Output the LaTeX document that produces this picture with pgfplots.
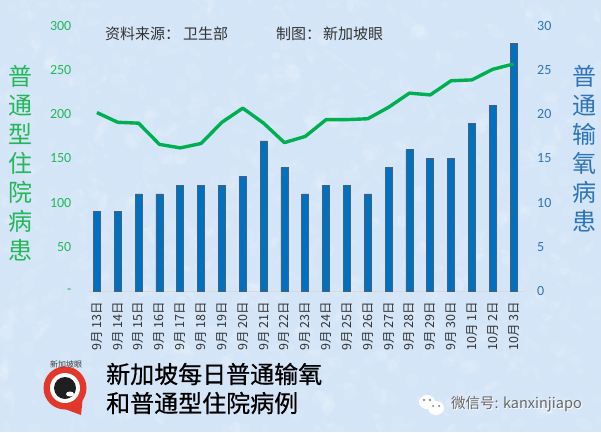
\documentclass[border=0pt]{standalone}
\usepackage{fontspec}
\setmainfont{Noto Sans CJK SC}
\newfontfamily\carl{Carlito}
\newfontfamily\heavy[FakeBold=0.6]{Noto Sans CJK SC}
\usepackage{pgfplots}
\usepackage{pgfplotstable}
\pgfplotsset{compat=1.18}
\definecolor{bgblue}{HTML}{D4E5F8}
\definecolor{barblue}{HTML}{0070C0}
\definecolor{baredge}{HTML}{4A6078}
\definecolor{linegreen}{HTML}{00B050}
\definecolor{leftgreen}{HTML}{22B858}
\definecolor{rightblue}{HTML}{2E75B6}
\definecolor{logored}{HTML}{E2382B}
\pgfplotstableread{
x oxygen ward
0 9 202
1 9 191
2 11 190
3 11 166
4 12 162
5 12 167
6 12 191
7 13 207
8 17 190
9 14 168
10 11 175
11 12 194
12 12 194
13 11 195
14 14 208
15 16 224
16 15 222
17 15 238
18 19 239
19 21 251
20 28 257
}\cases
\begin{document}
\begin{tikzpicture}[x=1pt,y=1pt]
\fill[bgblue] (0,0) rectangle (601,432);
\useasboundingbox (0,0) rectangle (601,432);
% paper texture of the background
\begin{scope}
\clip (0,0) rectangle (601,432);
\pgfmathsetseed{7}
\foreach \i in {1,...,900}{
  \pgfmathsetmacro{\px}{rnd*601}
  \pgfmathsetmacro{\py}{rnd*432}
  \pgfmathsetmacro{\ra}{2+rnd*9}
  \pgfmathsetmacro{\rb}{1.5+rnd*6}
  \pgfmathsetmacro{\rot}{rnd*180}
  \fill[white, opacity=0.10, rotate around={\rot:(\px,\py)}] (\px,\py) ellipse ({\ra} and {\rb});
}
\end{scope}
% bars, right axis
\begin{axis}[
    at={(86.5pt,141pt)}, anchor=south west,
    scale only axis, width=437.5pt, height=265pt,
    xmin=-0.5, xmax=20.5, ymin=0, ymax=30,
    axis y line*=right, axis x line*=bottom,
    axis line style={draw=none},
    y axis line style={draw=none},
    x axis line style={draw=black!15, line width=0.8pt},
    xtick=data,
    xticklabels={9月 13日,9月 14日,9月 15日,9月 16日,9月 17日,9月 18日,9月 19日,9月 20日,9月 21日,9月 22日,9月 23日,9月 24日,9月 25日,9月 26日,9月 27日,9月 28日,9月 29日,9月 30日,10月 1日,10月 2日,10月 3日},
    x tick label style={rotate=90, anchor=east, font=\fontsize{12.5}{14}\selectfont, text=black!80, inner sep=0pt},
    xticklabel shift=11pt,
    ytick={0,5,...,30},
    y tick label style={font=\carl\fontsize{14}{16}\selectfont, text=rightblue, /pgf/number format/assume math mode=true, inner sep=0pt},
    yticklabel shift=13pt,
    major tick length=0pt,
    ybar, bar width=7pt,
]
\addplot[fill=barblue, draw=baredge, line width=0.6pt] table[x=x,y=oxygen] {\cases};
\end{axis}
% line, left axis
\begin{axis}[
    at={(86.5pt,141pt)}, anchor=south west,
    scale only axis, width=437.5pt, height=265pt,
    xmin=-0.5, xmax=20.5, ymin=0, ymax=300,
    axis y line*=left, axis x line=none,
    y axis line style={draw=none},
    ytick={0,50,...,300},
    yticklabels={-,50,100,150,200,250,300},
    y tick label style={font=\carl\fontsize{14}{16}\selectfont, text=leftgreen, /pgf/number format/assume math mode=true, inner sep=0pt},
    yticklabel shift=15pt,
    major tick length=0pt,
]
\addplot[linegreen, line width=3.4pt, line join=round] table[x=x,y=ward] {\cases};
\end{axis}
\node[text=leftgreen, align=center, inner sep=0pt, font=\fontsize{24}{29}\selectfont] at (21,269) {普\\通\\型\\住\\院\\病\\患};
\node[text=rightblue, align=center, inner sep=0pt, font=\fontsize{24}{29}\selectfont] at (584,283) {普\\通\\输\\氧\\病\\患};
\begin{scope}[every node/.style={anchor=west, inner sep=0pt, text=black!80, font=\fontsize{15}{17}\selectfont}]
\node at (105,398) {资料来源：};
\node at (183,398) {卫生部};
\node at (276,398) {制图：};
\node at (323,398) {新加坡眼};
\end{scope}
\node[anchor=west, inner sep=0pt, text=black, font=\heavy\fontsize{24}{29}\selectfont] at (106,58) {新加坡每日普通输氧};
\node[anchor=west, inner sep=0pt, text=black, font=\heavy\fontsize{24}{29}\selectfont] at (106,29) {和普通型住院病例};
% logo
\fill[logored] (81,17) -- (83,36) -- (62,24) -- cycle;
\fill[logored] (65,44) circle (21.5);
\fill[white] (65,44) circle (15);
\fill[black!88] (65,44) circle (11);
\fill[white] (70,38) ellipse (4 and 2.5);
\node[inner sep=0pt, text=black!75, font=\fontsize{8}{9}\selectfont] at (66,67.5) {新加坡眼};
% wechat mark
\fill[white] (427,30) ellipse (8 and 7);
\fill[white] (436,24) ellipse (8 and 7);
\fill[black!55] (424,32) circle (1.1) (430,32) circle (1.1) (433,26) circle (1) (439,26) circle (1);
\node[anchor=west, inner sep=0pt, text=white, font=\fontsize{14.5}{16}\selectfont] at (451.8,27.2) {微信号: kanxinjiapo};
\node[anchor=west, inner sep=0pt, text=black!60, font=\fontsize{14.5}{16}\selectfont] at (451,28) {微信号: kanxinjiapo};
\end{tikzpicture}
\end{document}
